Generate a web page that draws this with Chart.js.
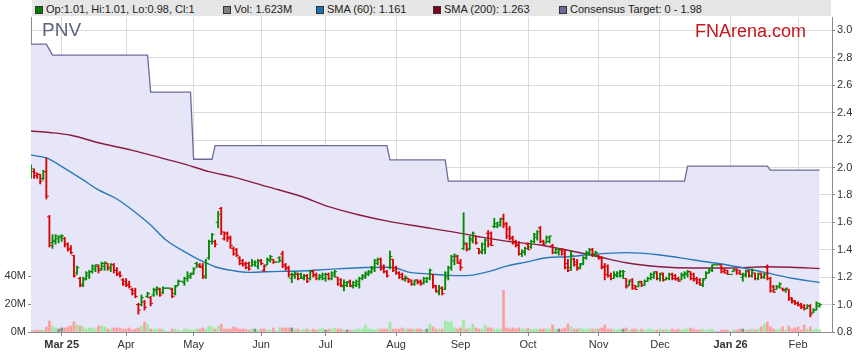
<!DOCTYPE html>
<html lang="en">
<head>
<meta charset="UTF-8">
<title>PNV - FNArena</title>
<script src="https://cdn.jsdelivr.net/npm/chart.js"></script>
<style>
    body { margin: 0; background: #fff; font-family: "Liberation Sans", Arial, sans-serif; }
    #wrap { position: relative; width: 859px; height: 363px; }
    #chart { display: block; }
    #legendBar {
        position: absolute; left: 32px; top: 0; width: 799px; height: 16px;
        background: #e6e6e6; font-size: 11px; color: #222;
    }
    .item { position: absolute; top: 2px; line-height: 14px; white-space: nowrap; }
    .sw {
        display: inline-block; width: 6px; height: 6px; border: 1px solid #333;
        margin-right: 3px; vertical-align: -1px;
    }
    #ticker { position: absolute; left: 42px; top: 19px; font-size: 19px; color: #5b6479; }
    #brand { position: absolute; left: 695px; top: 21px; font-size: 18px; color: #c4161c; }
</style>
</head>
<body>
<div id="wrap">
    <canvas id="chart" width="859" height="363"></canvas>
    <div id="legendBar">
        <span class="item" style="left:3px"><i class="sw" style="background:#008000"></i>Op:1.01, Hi:1.01, Lo:0.98, Cl:1</span>
        <span class="item" style="left:191px"><i class="sw" style="background:#808080"></i>Vol: 1.623M</span>
        <span class="item" style="left:284px"><i class="sw" style="background:#1a6fb5"></i>SMA (60): 1.161</span>
        <span class="item" style="left:401px"><i class="sw" style="background:#800020"></i>SMA (200): 1.263</span>
        <span class="item" style="left:527px"><i class="sw" style="background:#6c6c9c"></i>Consensus Target: 0 - 1.98</span>
    </div>
    <div id="ticker">PNV</div>
    <div id="brand">FNArena.com</div>
</div>

<script>
// trading-day index: 0 = Mon 3 Mar 2025, one step per weekday
const firstDay = -10;

const monthTicks = [0, 21, 43, 65, 86, 109, 130, 152, 175, 195, 218, 240];
const monthLabels = ['Mar 25', 'Apr', 'May', 'Jun', 'Jul', 'Aug', 'Sep', 'Oct', 'Nov', 'Dec', 'Jan 26', 'Feb'];
const boldLabels = ['Mar 25', 'Jan 26'];
const priceTicks = [0.8, 1.0, 1.2, 1.4, 1.6, 1.8, 2.0, 2.2, 2.4, 2.6, 2.8, 3.0];
const volumeTicks = [0, 20, 40];

const opens = [
    1.95,1.97,1.94,1.95,1.92,1.97,1.64,1.45,1.46,1.48,
    1.49,1.48,1.44,1.41,1.36,1.23,1.19,1.15,1.19,1.21,
    1.24,1.26,1.28,1.26,1.28,1.30,1.26,1.29,1.25,1.23,
    1.18,1.17,1.15,1.11,1.10,1.00,1.00,1.02,1.06,1.05,
    1.07,1.10,1.11,1.09,1.12,1.12,1.11,1.08,1.14,1.17,
    1.16,1.19,1.20,1.23,1.30,1.29,1.28,1.21,1.34,1.46,
    1.46,1.60,1.70,1.48,1.52,1.49,1.41,1.40,1.34,1.32,
    1.30,1.30,1.28,1.29,1.28,1.32,1.25,1.29,1.32,1.33,
    1.31,1.34,1.37,1.29,1.27,1.19,1.21,1.22,1.22,1.19,
    1.21,1.19,1.24,1.22,1.19,1.20,1.19,1.22,1.19,1.21,
    1.20,1.18,1.13,1.14,1.17,1.13,1.14,1.15,1.19,1.20,
    1.22,1.23,1.26,1.30,1.33,1.28,1.24,1.27,1.33,1.27,
    1.23,1.22,1.18,1.19,1.18,1.15,1.18,1.17,1.16,1.17,
    1.19,1.22,1.14,1.09,1.12,1.11,1.20,1.27,1.32,1.35,
    1.30,1.41,1.44,1.41,1.47,1.50,1.41,1.39,1.40,1.52,
    1.52,1.57,1.57,1.58,1.63,1.59,1.55,1.49,1.46,1.44,
    1.37,1.38,1.44,1.42,1.46,1.49,1.56,1.46,1.45,1.46,
    1.43,1.38,1.38,1.40,1.39,1.30,1.27,1.33,1.31,1.27,
    1.30,1.34,1.37,1.40,1.36,1.36,1.34,1.28,1.28,1.21,
    1.19,1.21,1.21,1.21,1.19,1.14,1.18,1.14,1.13,1.17,
    1.14,1.17,1.19,1.20,1.24,1.19,1.23,1.18,1.19,1.22,
    1.21,1.19,1.18,1.21,1.22,1.24,1.22,1.19,1.18,1.14,
    1.19,1.23,1.25,1.29,1.29,1.29,1.26,1.25,1.22,1.24,
    1.26,1.25,1.20,1.21,1.25,1.21,1.23,1.19,1.23,1.20,
    1.27,1.19,1.13,1.11,1.13,1.12,1.10,1.11,1.05,1.03,
    1.01,0.99,0.99,0.97,0.99,0.94,0.96,1.01
];
const highs = [
    2.02,1.99,1.96,1.95,1.98,2.07,1.65,1.51,1.51,1.50,
    1.51,1.49,1.45,1.43,1.36,1.28,1.20,1.20,1.24,1.25,
    1.29,1.29,1.29,1.31,1.31,1.30,1.30,1.30,1.27,1.24,
    1.19,1.19,1.17,1.12,1.12,1.01,1.07,1.03,1.09,1.06,
    1.12,1.13,1.12,1.13,1.12,1.12,1.12,1.14,1.18,1.17,
    1.20,1.24,1.23,1.27,1.31,1.30,1.30,1.33,1.47,1.52,
    1.47,1.68,1.71,1.53,1.53,1.50,1.42,1.41,1.35,1.33,
    1.31,1.31,1.33,1.32,1.33,1.33,1.29,1.34,1.36,1.33,
    1.31,1.35,1.39,1.30,1.28,1.23,1.24,1.23,1.23,1.22,
    1.22,1.25,1.25,1.23,1.22,1.23,1.23,1.23,1.24,1.25,
    1.20,1.19,1.18,1.17,1.18,1.17,1.18,1.20,1.22,1.24,
    1.25,1.28,1.33,1.34,1.34,1.29,1.25,1.39,1.33,1.28,
    1.24,1.23,1.21,1.19,1.18,1.18,1.18,1.18,1.20,1.20,
    1.26,1.22,1.14,1.14,1.13,1.24,1.28,1.36,1.37,1.36,
    1.33,1.67,1.45,1.50,1.53,1.50,1.41,1.45,1.48,1.54,
    1.53,1.63,1.60,1.63,1.66,1.60,1.57,1.50,1.47,1.46,
    1.40,1.42,1.45,1.47,1.52,1.54,1.57,1.47,1.50,1.50,
    1.44,1.41,1.41,1.41,1.40,1.33,1.39,1.34,1.33,1.30,
    1.35,1.39,1.41,1.41,1.39,1.36,1.35,1.30,1.29,1.23,
    1.24,1.24,1.25,1.25,1.19,1.18,1.19,1.14,1.17,1.17,
    1.18,1.20,1.23,1.24,1.24,1.23,1.23,1.20,1.23,1.23,
    1.22,1.20,1.23,1.24,1.25,1.24,1.23,1.20,1.19,1.19,
    1.24,1.26,1.29,1.29,1.29,1.29,1.26,1.25,1.22,1.26,
    1.26,1.25,1.23,1.25,1.25,1.26,1.23,1.23,1.23,1.23,
    1.29,1.20,1.14,1.14,1.16,1.12,1.12,1.11,1.05,1.03,
    1.02,1.01,1.00,1.00,1.00,0.97,1.02,1.01
];
const lows = [
    1.92,1.92,1.92,1.88,1.91,1.77,1.42,1.41,1.44,1.45,
    1.46,1.42,1.39,1.37,1.20,1.22,1.13,1.13,1.18,1.19,
    1.23,1.24,1.23,1.25,1.25,1.25,1.24,1.23,1.21,1.20,
    1.14,1.13,1.12,1.07,1.05,0.93,0.99,0.96,1.05,0.99,
    1.06,1.07,1.06,1.08,1.12,1.12,1.05,1.07,1.14,1.17,
    1.14,1.17,1.19,1.22,1.27,1.27,1.19,1.19,1.33,1.44,
    1.42,1.56,1.51,1.47,1.46,1.41,1.36,1.35,1.29,1.28,
    1.26,1.25,1.28,1.28,1.26,1.29,1.24,1.29,1.31,1.30,
    1.31,1.31,1.27,1.25,1.20,1.16,1.19,1.18,1.19,1.18,
    1.16,1.18,1.20,1.18,1.18,1.18,1.17,1.18,1.18,1.20,
    1.14,1.13,1.10,1.13,1.13,1.12,1.13,1.12,1.18,1.19,
    1.21,1.23,1.24,1.29,1.25,1.23,1.20,1.26,1.24,1.22,
    1.19,1.18,1.17,1.16,1.14,1.14,1.15,1.14,1.15,1.16,
    1.18,1.12,1.09,1.07,1.07,1.11,1.18,1.25,1.29,1.30,
    1.25,1.40,1.39,1.40,1.45,1.44,1.37,1.37,1.37,1.42,
    1.43,1.56,1.56,1.57,1.56,1.48,1.47,1.44,1.42,1.36,
    1.35,1.36,1.40,1.41,1.45,1.47,1.45,1.43,1.45,1.45,
    1.37,1.37,1.36,1.36,1.26,1.24,1.25,1.28,1.25,1.26,
    1.29,1.33,1.36,1.35,1.35,1.33,1.26,1.18,1.20,1.18,
    1.19,1.20,1.20,1.19,1.12,1.14,1.11,1.11,1.13,1.13,
    1.14,1.17,1.18,1.19,1.18,1.17,1.17,1.18,1.18,1.18,
    1.18,1.17,1.18,1.19,1.20,1.18,1.17,1.15,1.14,1.13,
    1.19,1.23,1.24,1.29,1.29,1.23,1.23,1.22,1.22,1.24,
    1.22,1.22,1.17,1.20,1.20,1.20,1.18,1.18,1.19,1.19,
    1.18,1.09,1.09,1.11,1.12,1.10,1.09,1.03,1.01,1.00,
    0.99,0.97,0.96,0.97,0.91,0.94,0.96,0.98
];
const closes = [
    1.99,1.96,1.95,1.90,1.97,1.79,1.43,1.47,1.50,1.50,
    1.50,1.44,1.40,1.38,1.21,1.27,1.14,1.18,1.23,1.24,
    1.28,1.29,1.25,1.30,1.31,1.27,1.29,1.25,1.22,1.21,
    1.15,1.14,1.13,1.08,1.06,0.96,1.05,0.98,1.08,1.01,
    1.11,1.12,1.07,1.12,1.12,1.12,1.06,1.13,1.17,1.17,
    1.19,1.21,1.22,1.26,1.28,1.27,1.20,1.30,1.46,1.51,
    1.44,1.66,1.53,1.52,1.48,1.43,1.37,1.36,1.30,1.29,
    1.27,1.26,1.31,1.31,1.32,1.30,1.28,1.33,1.35,1.31,
    1.31,1.32,1.28,1.26,1.22,1.22,1.23,1.19,1.20,1.21,
    1.17,1.24,1.21,1.19,1.21,1.22,1.22,1.19,1.23,1.24,
    1.15,1.14,1.16,1.16,1.14,1.16,1.17,1.19,1.21,1.23,
    1.24,1.27,1.32,1.33,1.26,1.24,1.21,1.35,1.25,1.23,
    1.20,1.19,1.20,1.17,1.15,1.17,1.16,1.15,1.19,1.19,
    1.25,1.13,1.10,1.12,1.08,1.23,1.27,1.35,1.36,1.31,
    1.27,1.45,1.40,1.48,1.52,1.45,1.38,1.44,1.47,1.44,
    1.43,1.59,1.60,1.62,1.58,1.50,1.48,1.45,1.43,1.37,
    1.39,1.41,1.40,1.46,1.51,1.53,1.46,1.44,1.49,1.50,
    1.38,1.40,1.40,1.37,1.27,1.25,1.36,1.29,1.26,1.29,
    1.34,1.38,1.40,1.36,1.38,1.34,1.27,1.22,1.21,1.19,
    1.22,1.23,1.24,1.24,1.13,1.17,1.12,1.11,1.16,1.14,
    1.17,1.19,1.22,1.23,1.19,1.22,1.18,1.19,1.22,1.19,
    1.18,1.17,1.22,1.23,1.24,1.19,1.18,1.16,1.15,1.18,
    1.23,1.26,1.29,1.29,1.29,1.24,1.23,1.22,1.22,1.25,
    1.23,1.22,1.22,1.24,1.21,1.25,1.19,1.22,1.20,1.22,
    1.19,1.10,1.09,1.13,1.15,1.11,1.12,1.04,1.02,1.01,
    1.00,0.98,0.97,0.99,0.93,0.96,0.99,1.00
];
// volume in millions of shares
const volumes = [
    1.4,1.1,1.4,1.1,1.4,3.6,7.9,4.3,2.9,2.1,
    2.9,2.9,3.6,4.3,7.1,5.0,4.3,3.6,2.1,2.9,
    2.9,2.1,4.3,4.3,3.6,2.1,2.1,2.9,2.9,2.9,
    2.1,2.1,2.9,1.4,2.1,2.9,4.3,7.1,5.7,2.1,
    2.1,2.1,2.1,2.1,0,0,2.1,2.1,1.4,0,
    2.1,2.1,1.4,1.4,2.1,2.1,2.9,2.1,4.3,3.6,
    2.1,4.3,5.7,2.1,2.1,2.1,3.6,2.9,2.1,2.1,
    2.1,1.4,2.1,2.1,1.4,2.1,2.1,1.4,1.4,2.9,
    0,2.9,2.9,2.9,2.9,2.9,2.1,2.1,1.4,2.1,
    2.1,1.4,2.1,1.4,2.1,2.9,1.4,2.1,2.1,2.9,
    2.1,2.1,1.4,1.4,1.4,1.4,2.1,2.1,2.1,5.0,
    2.1,2.1,1.4,2.1,2.1,2.1,2.1,7.1,2.1,2.1,
    2.1,2.9,2.1,2.1,2.1,2.1,2.1,2.1,1.4,2.1,
    5.7,3.6,2.1,2.1,2.1,7.9,7.1,7.1,2.9,2.1,
    2.9,8.6,2.1,2.9,5.7,2.9,2.1,2.1,5.0,2.9,
    2.9,2.1,2.1,2.1,29.8,2.9,2.1,2.9,2.1,2.9,
    2.1,2.1,2.9,2.1,2.1,2.1,2.1,2.1,2.1,2.1,
    5.0,2.1,2.1,2.1,2.9,5.7,3.6,2.1,2.1,2.9,
    2.1,2.1,2.1,2.1,2.1,2.1,2.9,5.0,2.1,2.1,
    2.1,1.4,2.1,2.1,2.9,1.4,2.1,2.1,1.4,2.1,
    1.4,2.1,2.1,1.4,1.4,2.1,1.4,2.1,1.4,2.1,
    1.4,2.1,1.4,2.1,2.1,2.9,2.1,1.4,1.4,2.1,
    1.4,1.4,2.1,0,0,1.4,1.4,1.4,0,1.4,
    1.4,2.1,2.1,1.4,1.4,2.1,1.4,2.1,3.6,5.7,
    7.1,3.6,2.1,1.4,2.1,3.6,1.4,4.3,2.1,2.9,
    3.6,1.4,5.0,2.1,3.6,1.4,2.1,1.62
];

const sma60Days = [-10,-5,1,7,12,18,23,29,34,40,45,50,56,61,67,78,87,97,107,114,120,126,132,139,145,152,158,165,173,184,195,206,217,228,238,247];
const sma60Values = [2.09,2.07,1.994,1.909,1.836,1.77,1.69,1.58,1.471,1.386,1.325,1.276,1.247,1.235,1.24,1.245,1.257,1.269,1.272,1.233,1.223,1.213,1.211,1.24,1.281,1.313,1.342,1.349,1.367,1.379,1.362,1.325,1.289,1.24,1.192,1.161];

const sma200Days = [-10,-4,3,12,23,29,40,48,56,67,78,87,97,107,117,127,136,146,156,163,174,184,195,206,217,230,238,247];
const sma200Values = [2.266,2.255,2.235,2.18,2.125,2.09,2.025,1.97,1.93,1.86,1.79,1.714,1.653,1.605,1.568,1.532,1.495,1.459,1.435,1.405,1.354,1.305,1.276,1.267,1.267,1.276,1.272,1.263];

const targetDays = [-10,-5,-3,28,29,42,43,49,50,106,107,125,126,203,204,230,231,247];
const targetValues = [2.90,2.90,2.82,2.82,2.55,2.55,2.06,2.06,2.16,2.16,2.055,2.055,1.90,1.90,2.01,2.01,1.98,1.98];

const fontFamily = "'Liberation Sans', Arial, sans-serif";
Chart.defaults.font.family = fontFamily;
Chart.defaults.font.size = 11;
Chart.defaults.color = '#333';

const days = closes.map((c, i) => firstDay + i);
const prevClose = closes.map((c, i) => i === 0 ? opens[0] : closes[i - 1]);
const barColors = closes.map((c, i) => c >= prevClose[i] ? '#008a00' : '#dd0000');
const volColors = closes.map((c, i) => c > prevClose[i] ? '#9eea9e' : (c < prevClose[i] ? '#ff9c9c' : '#8a8a8a'));

const pts = (xs, ys) => xs.map((x, i) => ({ x: x, y: ys[i] }));

new Chart(document.getElementById('chart'), {
    type: 'line',
    data: {
        datasets: [
            {
                label: 'Consensus Target',
                data: pts(targetDays, targetValues),
                yAxisID: 'y',
                borderColor: '#6c6c9c',
                borderWidth: 1.3,
                backgroundColor: '#e6e6f8',
                fill: 'start',
                pointRadius: 0,
                tension: 0,
                order: 10
            },
            {
                type: 'bar',
                label: 'Vol',
                data: pts(days, volumes),
                yAxisID: 'vol',
                backgroundColor: volColors,
                barThickness: 2,
                grouped: false,
                order: 8
            },
            {
                label: 'SMA (200)',
                data: pts(sma200Days, sma200Values),
                yAxisID: 'y',
                borderColor: '#8a1c40',
                borderWidth: 1.4,
                pointRadius: 0,
                cubicInterpolationMode: 'monotone',
                fill: false,
                order: 6
            },
            {
                label: 'SMA (60)',
                data: pts(sma60Days, sma60Values),
                yAxisID: 'y',
                borderColor: '#2a78b8',
                borderWidth: 1.4,
                pointRadius: 0,
                cubicInterpolationMode: 'monotone',
                fill: false,
                order: 5
            },
            {
                type: 'bar',
                label: 'High-Low',
                data: days.map((d, i) => ({ x: d, y: [lows[i], highs[i]] })),
                yAxisID: 'y',
                backgroundColor: barColors,
                barThickness: 1.2,
                grouped: false,
                order: 4
            },
            {
                label: 'Open',
                data: days.map((d, i) => ({ x: d - 0.4, y: opens[i] })),
                yAxisID: 'y',
                showLine: false,
                pointStyle: 'line',
                pointRadius: 1.2,
                pointBorderWidth: 1,
                pointBorderColor: barColors,
                pointHoverRadius: 0,
                order: 3
            },
            {
                label: 'Close',
                data: days.map((d, i) => ({ x: d + 0.4, y: closes[i] })),
                yAxisID: 'y',
                showLine: false,
                pointStyle: 'line',
                pointRadius: 1.2,
                pointBorderWidth: 1,
                pointBorderColor: barColors,
                pointHoverRadius: 0,
                order: 3
            }
        ]
    },
    options: {
        responsive: false,
        animation: false,
        events: [],
        layout: { padding: { top: 17, left: 0, right: 0, bottom: 0 } },
        plugins: {
            legend: { display: false },
            tooltip: { enabled: false }
        },
        scales: {
            x: {
                type: 'linear',
                min: -10,
                max: 251.07,
                offset: false,
                afterBuildTicks: s => { s.ticks = monthTicks.map(v => ({ value: v })); },
                afterFit: s => { s.height = 31; },
                grid: { color: '#dadada', tickColor: '#888', tickLength: 4, offset: false },
                border: { color: '#8c8c8c' },
                ticks: {
                    autoSkip: false,
                    maxRotation: 0,
                    padding: 2,
                    color: '#333',
                    callback: v => monthLabels[monthTicks.indexOf(v)],
                    font: ctx => {
                        const lab = ctx.tick ? monthLabels[monthTicks.indexOf(ctx.tick.value)] : '';
                        return { family: fontFamily, size: 11, weight: boldLabels.includes(lab) ? 'bold' : 'normal' };
                    }
                }
            },
            y: {
                type: 'linear',
                position: 'right',
                min: 0.8,
                max: 3.0976,
                beginAtZero: false,
                afterBuildTicks: s => { s.ticks = priceTicks.map(v => ({ value: v })); },
                afterFit: s => { s.width = 27; },
                grid: { color: '#dadada', tickColor: '#888', tickLength: 3 },
                border: { color: '#8c8c8c' },
                ticks: { padding: 2, color: '#333', callback: v => v.toFixed(1) }
            },
            vol: {
                type: 'linear',
                position: 'left',
                min: 0,
                max: 225,
                beginAtZero: true,
                afterBuildTicks: s => { s.ticks = volumeTicks.map(v => ({ value: v })); },
                afterFit: s => { s.width = 31; },
                grid: { drawOnChartArea: false, tickColor: '#888', tickLength: 3 },
                border: { color: '#8c8c8c' },
                ticks: { padding: 2, color: '#333', callback: v => v + 'M' }
            }
        }
    }
});
</script>
</body>
</html>
